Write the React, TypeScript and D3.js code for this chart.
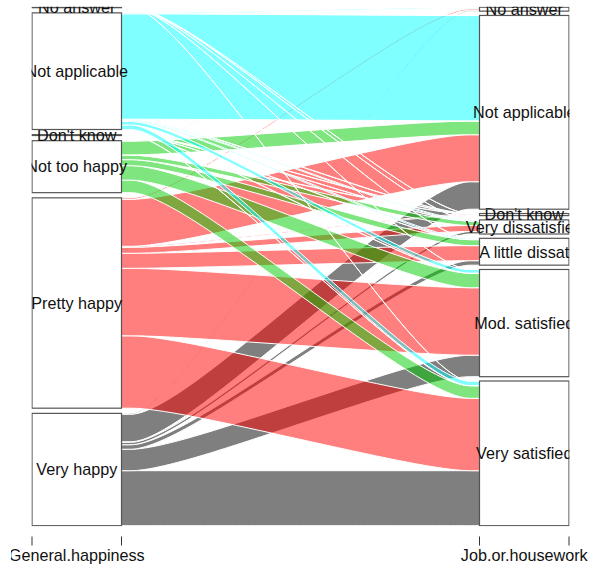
import React from "react";
import * as d3 from "d3";

const happiness = ["Very happy", "Pretty happy", "Not too happy", "Don't know", "Not applicable", "No answer"];
const jobLevels = ["Very satisfied", "Mod. satisfied", "A little dissat", "Very dissatisfied", "Don't know", "Not applicable", "No answer"];
const axisLabels = ["General.happiness", "Job.or.housework"];
const happyColors = ["#000000", "#FF0000", "#00CD00", "#BEBEBE", "#00FFFF", "#BEBEBE"];

// per-mille of respondents, one array per happiness level, in jobLevels order
const veryHappy = [111.7, 43.6, 9.1, 5.1, 1.0, 55.8, 1.8];
const prettyHappy = [147.0, 137.0, 30.5, 12.2, 2.0, 95.4, 3.0];
const notTooHappy = [25.4, 29.4, 12.2, 9.1, 0.6, 27.8, 1.0];
const dontKnow = [0.4, 0.4, 0.2, 0.1, 0.1, 0.4, 0.1];
const notApplicable = [9.1, 7.1, 2.4, 2.0, 0.4, 213.8, 2.0];
const noAnswer = [0.2, 0.2, 0.1, 0.1, 0.1, 0.2, 0.1];
const counts = [veryHappy, prettyHappy, notTooHappy, dontKnow, notApplicable, noAnswer];

const W = 589;
const H = 567;
const cw = 0.1;
const xw = 0.1;
const gapWidth = 0.05;
const font = "'Liberation Sans', Arial, sans-serif";
const fontSize = 16.2;

type Row = { dims: number[]; freq: number; col: string };

export default function App() {
  const x = d3.scaleLinear().domain([1 - cw, 2 + cw]).range([32, 569]);
  const y = d3.scaleLinear().domain([0, 1]).range([525.7, 7.2]);

  const rows: Row[] = [];
  counts.forEach((arr, h) =>
    arr.forEach((v, j) => {
      if (v > 0) rows.push({ dims: [h, j], freq: v, col: happyColors[h] });
    })
  );
  const total = d3.sum(rows, (r) => r.freq);
  rows.forEach((r) => (r.freq = r.freq / total));

  // stripe end points on dimension i (same idea as alluvial's getp)
  const getp = (i: number) => {
    const other = 1 - i;
    const o = d3.range(rows.length).sort(
      (a, b) => rows[a].dims[i] - rows[b].dims[i] || rows[a].dims[other] - rows[b].dims[other]
    );
    const out: number[][] = new Array(rows.length);
    let cum = 0;
    let g = 0;
    const gaps: number[] = [];
    o.forEach((k, n) => {
      if (n > 0 && rows[k].dims[i] !== rows[o[n - 1]].dims[i]) g++;
      gaps.push(g);
    });
    const mx = d3.max(gaps) || 1;
    o.forEach((k, n) => {
      const lo = cum * (1 - gapWidth);
      cum += rows[k].freq;
      const hi = cum * (1 - gapWidth);
      const s = (gaps[n] / mx) * gapWidth;
      out[k] = [lo + s, hi + s];
    });
    return out;
  };
  const dd = [getp(0), getp(1)];

  const line = d3.line().curve(d3.curveBasis);
  const stripePath = (a: number[], b: number[]) => {
    const x0 = x(1 + cw), x1 = x(1 + cw + xw), x2 = x(2 - cw - xw), x3 = x(2 - cw);
    const top = line([[x0, y(a[1])], [x1, y(a[1])], [x2, y(b[1])], [x3, y(b[1])]]) as string;
    const bot = line([[x3, y(b[0])], [x2, y(b[0])], [x1, y(a[0])], [x0, y(a[0])]]) as string;
    return top + "L" + bot.slice(1) + "Z";
  };

  const blocks = [happiness, jobLevels].map((levels, i) =>
    levels
      .map((name, lv) => {
        const ids = rows.map((r, k) => k).filter((k) => rows[k].dims[i] === lv);
        if (!ids.length) return null;
        const lo = d3.min(ids, (k) => dd[i][k][0]) as number;
        const hi = d3.max(ids, (k) => dd[i][k][1]) as number;
        return { name, lo, hi };
      })
      .filter((b) => b !== null) as { name: string; lo: number; hi: number }[]
  );

  return (
    <svg width={W} height={H} style={{ position: "absolute", left: 0, top: 0, background: "#fff" }}>
      <defs>
        <clipPath id="plotClip">
          <rect x={x(1 - cw) - 0.5} y={y(1) - 0.5} width={x(2 + cw) - x(1 - cw) + 1} height={y(0) - y(1) + 1} />
        </clipPath>
        <clipPath id="pageClip">
          <rect x={11} y={0} width={W - 11} height={H} />
        </clipPath>
      </defs>
      <g clipPath="url(#plotClip)">
        {rows.map((r, k) => (
          <path
            key={k}
            d={stripePath(dd[0][k], dd[1][k])}
            fill={r.col}
            fillOpacity={0.5}
            stroke="#ffffff"
            strokeWidth={1}
          />
        ))}
        {blocks.map((bl, i) =>
          bl.map((b) => (
            <g key={i + b.name}>
              <rect
                x={x(i + 1 - cw)}
                y={y(b.hi)}
                width={x(i + 1 + cw) - x(i + 1 - cw)}
                height={Math.max(y(b.lo) - y(b.hi), 0.3)}
                fill="none"
                stroke="#555"
                strokeWidth={1.2}
              />
              <text
                x={x(i + 1)}
                y={y((b.lo + b.hi) / 2) + 5.8}
                textAnchor="middle"
                fontFamily={font}
                fontSize={fontSize}
                fill="#111"
              >
                {b.name}
              </text>
            </g>
          ))
        )}
      </g>
      <g clipPath="url(#pageClip)">
        {[1 - cw, 1 + cw, 2 - cw, 2 + cw].map((t) => (
          <line key={t} x1={x(t)} x2={x(t)} y1={536.5} y2={545.5} stroke="#333" strokeWidth={1} />
        ))}
        {axisLabels.map((lab, i) => (
          <text key={lab} x={x(i + 1)} y={561} textAnchor="middle" fontFamily={font} fontSize={fontSize} fill="#111">
            {lab}
          </text>
        ))}
      </g>
    </svg>
  );
}
